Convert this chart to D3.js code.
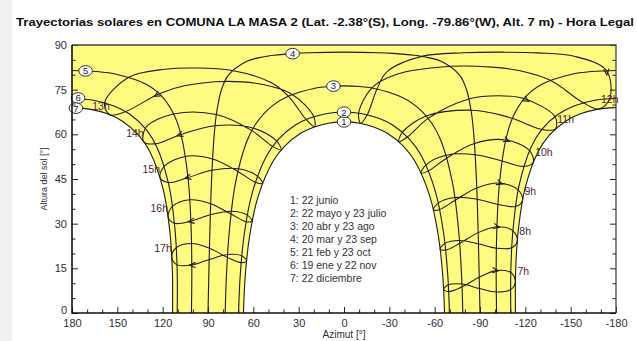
<!DOCTYPE html>
<html><head><meta charset="utf-8">
<script src="https://cdn.jsdelivr.net/npm/d3@7"></script>
<style>body{margin:0;background:#fff;} svg{display:block;font-family:"Liberation Sans",Arial,sans-serif;}</style>
</head><body><svg id="c" width="637" height="341"></svg>
<script>
// ---------- data (azimut [°], altura [°]) ----------
const titleText = "Trayectorias solares en COMUNA LA MASA 2 (Lat. -2.38°(S), Long. -79.86°(W), Alt. 7 m) - Hora Legal";
const xMajorTicks = [180,150,120,90,60,30,0,-30,-60,-90,-120,-150,-180];
const xMinorTicks = [170,160,140,130,110,100,80,70,50,40,20,10,-10,-20,-40,-50,-70,-80,-100,-110,-130,-140,-160,-170];
const yMajorTicks = [0,15,30,45,60,75,90];
const yMinorTicks = [5,10,20,25,35,40,50,55,65,70,80,85];

const curve1 = [[-66.54,0],[-65.31,12.75],[-62.33,26.22],[-56.81,39.18],[-46.83,51.03],[-39.06,56.14],[-28.67,60.35],[-20.12,62.41],[-10.41,63.73],[0,64.19],[10.41,63.73],[20.12,62.41],[28.67,60.35],[39.06,56.14],[46.83,51.03],[56.81,39.18],[62.33,26.22],[65.31,12.75],[66.54,0]];
const curve2 = [[-69.78,0],[-68.61,13.20],[-65.85,27.03],[-60.69,40.44],[-51.09,52.91],[-43.31,58.43],[-32.40,63.06],[-23.03,65.37],[-12.03,66.93],[0,67.43],[12.03,66.93],[23.03,65.37],[32.40,63.06],[43.31,58.43],[51.09,52.91],[60.69,40.44],[65.85,27.03],[68.61,13.20],[69.78,0]];
const curve3 = [[-78.64,0],[-77.66,14.20],[-75.66,28.79],[-71.99,43.20],[-64.68,57.16],[-58.03,63.74],[-47.08,69.71],[-35.72,73.05],[-19.81,75.42],[-10.22,76.06],[0,76.27],[10.22,76.06],[19.81,75.42],[35.72,73.05],[47.08,69.71],[58.03,63.74],[64.68,57.16],[71.99,43.20],[75.66,28.79],[77.66,14.20],[78.64,0]];
const curve4 = [[-90,0],[-89.36,14.99],[-88.63,29.97],[-87.62,44.95],[-85.89,59.91],[-84.27,67.39],[-81.19,74.81],[-76.75,79.73],[-64.60,84.46],[-55.83,85.77],[-46.44,86.55],[-32.24,87.19],[-22.80,87.42],[0,87.62],[22.80,87.42],[32.24,87.19],[46.44,86.55],[55.83,85.77],[64.60,84.46],[76.75,79.73],[81.19,74.81],[84.27,67.39],[85.89,59.91],[87.62,44.95],[88.63,29.97],[89.36,14.99],[90,0]];
const curve5pm = [[180,81.45],[163.97,81.11],[150.16,80.12],[131.29,76.91],[120.62,72.84],[112.04,66.09],[107.47,59.04],[103.06,44.56],[101.27,29.89],[100.71,15.18],[100.96,0]];
const curve5am = [[-180,81.45],[-163.97,81.11],[-150.16,80.12],[-131.29,76.91],[-120.62,72.84],[-112.04,66.09],[-107.47,59.04],[-103.06,44.56],[-101.27,29.89],[-100.71,15.18],[-100.96,0]];
const curve6pm = [[180,72.03],[165.17,71.38],[152.22,69.55],[141.92,66.82],[130.96,61.64],[123.79,55.66],[115.76,42.60],[111.99,28.87],[110.43,14.89],[110.37,0]];
const curve6am = [[-180,72.03],[-165.17,71.38],[-152.22,69.55],[-141.92,66.82],[-130.96,61.64],[-123.79,55.66],[-115.76,42.60],[-111.99,28.87],[-110.43,14.89],[-110.37,0]];
const curve7pm = [[180,68.97],[167.46,68.39],[156.13,66.82],[146.64,64.41],[135.90,59.70],[128.46,54.14],[119.73,41.66],[115.47,28.35],[113.62,14.70],[113.46,0]];
const curve7am = [[-180,68.97],[-167.46,68.39],[-156.13,66.82],[-146.64,64.41],[-135.90,59.70],[-128.46,54.14],[-119.73,41.66],[-115.47,28.35],[-113.62,14.70],[-113.46,0]];

const dayLabels = ["1","2","3","4","5","6","7"];
const dayLabelPts = [[0,64.19],[0,67.43],[7,76.2],[34,87.1],[171,81.3],[176,72.2],[177.4,68.8]];
const legendLines = ["1: 22 junio","2: 22 mayo y 23 julio","3: 20 abr y 23 ago","4: 20 mar y 23 sep","5: 21 feb y 23 oct","6: 19 ene y 22 nov","7: 22 diciembre"];

const hourLabels = ["7h","8h","9h","10h","11h","12h","13h","14h","15h","16h","17h"];
const h7  = [[-113.42,10.61],[-110.22,7.85],[-100.75,7.04],[-89.66,8.23],[-78.06,9.72],[-69.06,9.46],[-65.93,7.92],[-69.28,7.18],[-78.13,8.77],[-89.49,12.00],[-100.70,14.23],[-110.38,13.61]];
const h8  = [[-114.73,24.32],[-110.87,21.89],[-100.84,21.76],[-88.98,23.22],[-76.41,24.34],[-66.76,23.37],[-63.61,21.49],[-67.25,21.11],[-76.55,23.40],[-88.79,26.99],[-101.20,28.95],[-111.79,27.61]];
const h9  = [[-118.13,37.76],[-113.53,35.77],[-101.87,36.46],[-88.13,38.20],[-73.37,38.82],[-62.38,36.92],[-59.14,34.67],[-63.29,34.74],[-73.63,37.89],[-87.86,41.97],[-102.89,43.62],[-115.29,41.37]];
const h10 = [[-125.20,50.57],[-119.01,49.25],[-104.54,51.06],[-86.82,53.17],[-67.54,52.96],[-54.29,49.73],[-51.05,47.01],[-55.99,47.72],[-68.05,52.07],[-86.34,56.94],[-107.04,58.12],[-122.78,54.53]];
const h11 = [[-139.79,61.74],[-130.95,61.63],[-111.44,65.36],[-100.27,66.94],[-84.06,68.12],[-54.44,66.16],[-38.68,60.72],[-36.32,57.48],[-42.00,59.13],[-55.71,65.37],[-82.71,71.86],[-102.08,72.94],[-119.16,72.00],[-139.58,65.96]];
const h12 = [[-168.78,68.51],[-158.36,70.60],[-136.56,78.13],[-116.4,81.33],[-98.1,82.57],[-70.68,82.83],[-33.6,79.93],[-18.30,75.54],[-9.70,67.08],[-11.03,63.67],[-15.38,66.55],[-21.83,75.20],[-28.5,81.03],[-51.51,86.18],[-79.4,87.40],[-105.1,87.6],[-128.0,87.36],[-152.9,86.16],[-173.70,81.40],[-175.87,71.99]];
const h13 = [[155.01,66.60],[158.41,70.60],[142.47,79.16],[118.3,81.88],[97.8,82.29],[74.00,81.42],[48.3,77.41],[36.82,72.81],[25.02,64.98],[19.54,62.51],[19.97,65.91],[34.18,73.37],[53.6,76.71],[78.95,77.77],[104.9,76.37],[122.25,73.66],[144.47,67.64]];
const h14 = [[132.56,57.53],[130.95,62.39],[112.71,66.82],[84.48,66.65],[60.98,61.24],[47.25,55.95],[41.57,54.72],[44.55,57.71],[60.05,62.08],[85.34,62.90],[107.93,59.95],[124.88,56.79]];
const h15 = [[121.72,45.49],[119.02,49.27],[104.99,52.59],[86.98,51.70],[70.29,47.54],[58.68,43.91],[53.93,43.54],[57.29,45.98],[69.88,48.45],[87.36,47.94],[103.23,45.49],[116.27,43.82]];
const h16 = [[116.43,32.36],[113.53,35.79],[102.05,38.01],[88.22,36.72],[74.77,33.23],[64.75,30.67],[60.73,30.89],[64.00,32.88],[74.56,34.16],[88.46,32.96],[101.34,30.84],[112.23,30.13]];
const h17 = [[113.98,18.78],[111.00,21.91],[100.90,23.31],[89.05,21.74],[77.18,18.68],[68.04,16.92],[64.47,17.56],[67.63,19.19],[77.06,19.63],[89.23,17.97],[100.71,16.12],[110.52,16.16]];
const hourLines = [h7,h8,h9,h10,h11,h12,h13,h14,h15,h16,h17];
const oct23Index = [10,10,10,10,12,18,15,10,10,10,10];

// ---------- drawing ----------
const W = 637, H = 341;
const svg = d3.select("#c");
const x = d3.scaleLinear().domain([180,-180]).range([72,616]);
const y = d3.scaleLinear().domain([0,90]).range([313,45]);
const ink = "#1c1c1c", yellow = "#fffb80", txt = "#2e2e3a";

svg.append("rect").attr("x",0).attr("y",0).attr("width",12).attr("height",H).attr("fill","#f1f1f1");

svg.append("text").attr("x",16).attr("y",26).attr("font-size",11.5).attr("font-weight","bold")
  .attr("fill","#111").attr("textLength",618).attr("lengthAdjust","spacingAndGlyphs").text(titleText);

svg.append("defs").append("clipPath").attr("id","clip").append("rect")
  .attr("x",x(180)).attr("y",y(90)).attr("width",x(-180)-x(180)).attr("height",y(0)-y(90));

const plot = svg.append("g").attr("clip-path","url(#clip)");
plot.append("rect").attr("x",x(180)).attr("y",y(90)).attr("width",x(-180)-x(180)).attr("height",y(0)-y(90)).attr("fill",yellow);

const cr = d3.curveCatmullRom.alpha(0.5);
const line = d3.line().x(d=>x(d[0])).y(d=>y(d[1])).curve(cr);
const area = d3.area().x(d=>x(d[0])).y0(y(0)).y1(d=>y(d[1])).curve(cr);

[curve1, curve7pm, curve7am].forEach(c => plot.append("path").attr("d",area(c)).attr("fill","#fff"));

// hour analemmas
const loop = d3.line().x(d=>x(d[0])).y(d=>y(d[1])).curve(d3.curveCatmullRomClosed.alpha(0.5));
hourLines.forEach((h,k) => {
  plot.append("path").attr("d",loop(h)).attr("fill","none").attr("stroke",ink).attr("stroke-width",1.05);
  const i = oct23Index[k];
  const p0 = [x(h[i][0]),y(h[i][1])], p1 = [x(h[i+1][0]),y(h[i+1][1])];
  const t = 0.15;
  const px = p0[0]+t*(p1[0]-p0[0]), py = p0[1]+t*(p1[1]-p0[1]);
  const a = Math.atan2(p1[1]-p0[1], p1[0]-p0[0]);
  const L = 6.5, s = 0.42;
  const d = `M${px-L*Math.cos(a-s)},${py-L*Math.sin(a-s)}L${px},${py}L${px-L*Math.cos(a+s)},${py-L*Math.sin(a+s)}`;
  plot.append("path").attr("d",d).attr("fill","none").attr("stroke",ink).attr("stroke-width",1.1);
});

// day curves
[curve1,curve2,curve3,curve4,curve5pm,curve5am,curve6pm,curve6am,curve7pm,curve7am].forEach(c =>
  plot.append("path").attr("d",line(c)).attr("fill","none").attr("stroke",ink).attr("stroke-width",1.1));

// hour labels at the 22 dic point of each hour line
hourLines.forEach((h,k) => {
  const am = k <= 5;
  svg.append("text").attr("x", x(h[0][0]) + (am ? 2 : 0)).attr("y", y(h[0][1]) - (am ? 6 : 5))
    .attr("text-anchor", am ? "start" : "end").attr("font-size",10.5).attr("fill","#4e2626").text(hourLabels[k]);
});

// day labels
dayLabelPts.forEach((p,i) => {
  const g = svg.append("g").attr("transform",`translate(${x(p[0])},${y(p[1])})`);
  g.append("ellipse").attr("rx",6.8).attr("ry",5.3).attr("fill","#fff").attr("stroke","#333").attr("stroke-width",1);
  g.append("text").attr("y",3.4).attr("text-anchor","middle").attr("font-size",9.5).attr("fill","#222").text(dayLabels[i]);
});

// legend
legendLines.forEach((s,i) => svg.append("text").attr("x",290).attr("y",204+i*13.05)
  .attr("font-size",10.5).attr("fill","#333").text(s));

// axes
const fmt = d => String(d);
const gx = svg.append("g").attr("transform",`translate(0,${y(0)})`)
  .call(d3.axisBottom(x).tickValues(xMajorTicks).tickSize(-6).tickPadding(6).tickFormat(fmt));
const gxm = svg.append("g").attr("transform",`translate(0,${y(0)})`)
  .call(d3.axisBottom(x).tickValues(xMinorTicks).tickSize(-3.5).tickFormat(""));
const gy = svg.append("g").attr("transform",`translate(${x(180)},0)`)
  .call(d3.axisLeft(y).tickValues(yMajorTicks).tickSize(-6).tickPadding(5).tickFormat(fmt));
const gym = svg.append("g").attr("transform",`translate(${x(180)},0)`)
  .call(d3.axisLeft(y).tickValues(yMinorTicks).tickSize(-3.5).tickFormat(""));
const gr = svg.append("g").attr("transform",`translate(${x(-180)},0)`)
  .call(d3.axisRight(y).tickValues(yMajorTicks).tickSize(-6).tickFormat(""));
const grm = svg.append("g").attr("transform",`translate(${x(-180)},0)`)
  .call(d3.axisRight(y).tickValues(yMinorTicks).tickSize(-3.5).tickFormat(""));
[gx,gxm,gy,gym,gr,grm].forEach(g => {
  g.select(".domain").remove();
  g.selectAll("line").attr("stroke","#222").attr("stroke-width",1);
  g.selectAll("text").attr("font-size",11).attr("fill",txt).attr("font-family","Liberation Sans, Arial, sans-serif");
});
gy.selectAll(".tick").filter(d => d === 0).select("text").attr("dy","0.05em");

// frame
svg.append("path").attr("d",`M${x(180)},${y(90)}H${x(-180)}V${y(0)}`).attr("fill","none").attr("stroke","#444").attr("stroke-width",1.3);
svg.append("path").attr("d",`M${x(180)},${y(90)}V${y(0)}H${x(-180)}`).attr("fill","none").attr("stroke","#111").attr("stroke-width",1.6);

// axis titles
svg.append("text").attr("x",344).attr("y",338).attr("text-anchor","middle").attr("font-size",10).attr("fill",txt).text("Azimut [°]");
svg.append("text").attr("transform","translate(47,179) rotate(-90)").attr("text-anchor","middle").attr("font-size",9).attr("fill",txt).text("Altura del sol [°]");
</script></body></html>
